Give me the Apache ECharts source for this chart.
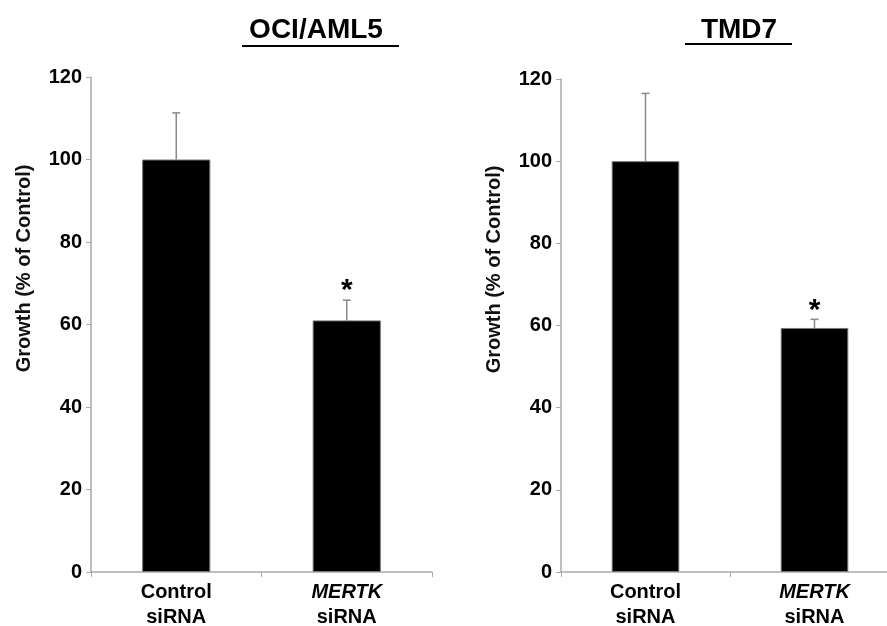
<!DOCTYPE html>
<html>
<head>
<meta charset="utf-8">
<script src="https://cdn.jsdelivr.net/npm/echarts@6/dist/echarts.min.js"></script>
<style>html,body{margin:0;padding:0;background:#fff}#c{width:887px;height:626px}</style>
</head>
<body>
<div id="c"></div>
<script>
const categories = ['Control siRNA', 'MERTK siRNA'];
const titles = ['OCI/AML5', 'TMD7'];
const yTicks = { min: 0, max: 120, interval: 20 };
const ociValues = [100, 61.0];
const ociErrors = [11.3, 4.9];
const tmdValues = [100, 59.4];
const tmdErrors = [16.5, 2.1];
const significance = ['', '*'];
const yName = 'Growth (% of Control)';

const FONT = 'Liberation Sans, Arial, sans-serif';
const chart = echarts.init(document.getElementById('c'), null, { renderer: 'canvas' });

function xAxis(gi) {
  return {
    type: 'category', gridIndex: gi, data: categories,
    axisLine: { lineStyle: { color: '#aaa', width: 1.5 } },
    axisTick: { show: true, length: 5, lineStyle: { color: '#aaa' } },
    axisLabel: {
      margin: 8, interval: 0,
      formatter: function (v) {
        const p = v.split(' ');
        const first = p[0] === 'MERTK' ? '{i|' + p[0] + '}' : '{b|' + p[0] + '}';
        return first + '\n{b|' + p[1] + '}';
      },
      rich: {
        b: { fontFamily: FONT, fontWeight: 'bold', fontSize: 20, color: '#000', lineHeight: 25 },
        i: { fontFamily: FONT, fontWeight: 'bold', fontStyle: 'italic', fontSize: 20, color: '#000', lineHeight: 25 }
      }
    }
  };
}
function yAxis(gi) {
  return {
    type: 'value', gridIndex: gi, min: yTicks.min, max: yTicks.max, interval: yTicks.interval,
    name: yName, nameLocation: 'middle', nameRotate: 90, nameGap: 57,
    nameTextStyle: { fontFamily: FONT, fontWeight: 'bold', fontSize: 20, color: '#111', padding: [0, 0, 0, 112] },
    splitLine: { show: false },
    axisLine: { show: true, lineStyle: { color: '#aaa', width: 1.5 } },
    axisTick: { show: true, length: 5, lineStyle: { color: '#aaa' } },
    axisLabel: { margin: 9, fontFamily: FONT, fontWeight: 'bold', fontSize: 20, color: '#000' }
  };
}
function barSeries(gi, values) {
  return {
    type: 'bar', xAxisIndex: gi, yAxisIndex: gi, data: values, barWidth: '40%',
    itemStyle: { color: '#000', borderColor: '#777', borderWidth: 1 }, z: 2
  };
}
function errSeries(gi, values, errors) {
  return {
    type: 'custom', xAxisIndex: gi, yAxisIndex: gi, z: 3,
    data: values.map((v, i) => [i, v, errors[i], significance[i]]),
    renderItem: function (params, api) {
      const x = api.value(0), v = api.value(1), e = api.value(2);
      const sig = significance[params.dataIndex];
      const p0 = api.coord([x, v]);
      const p1 = api.coord([x, v + e]);
      const cap = 4;
      const children = [
        { type: 'line', shape: { x1: p0[0], y1: p0[1], x2: p1[0], y2: p1[1] }, style: { stroke: '#888', lineWidth: 1.5 } },
        { type: 'line', shape: { x1: p1[0] - cap, y1: p1[1], x2: p1[0] + cap, y2: p1[1] }, style: { stroke: '#888', lineWidth: 1.5 } }
      ];
      if (sig) {
        children.push({ type: 'text', x: p1[0], y: p1[1] + 6,
          style: { text: sig, fontFamily: FONT, fontWeight: 'bold', fontSize: 30, fill: '#000', align: 'center', verticalAlign: 'bottom' } });
      }
      return { type: 'group', children: children };
    }
  };
}

chart.setOption({
  animation: false,
  backgroundColor: '#fff',
  title: [
    { text: titles[0], left: 311, top: 11, textAlign: 'center', textStyle: { fontFamily: FONT, fontWeight: 'bold', fontSize: 28, color: '#000' } },
    { text: titles[1], left: 734, top: 11, textAlign: 'center', textStyle: { fontFamily: FONT, fontWeight: 'bold', fontSize: 28, color: '#000' } }
  ],
  graphic: [
    { type: 'line', shape: { x1: 242, y1: 46, x2: 399, y2: 46 }, style: { stroke: '#000', lineWidth: 2 } },
    { type: 'line', shape: { x1: 685, y1: 44, x2: 792, y2: 44 }, style: { stroke: '#000', lineWidth: 2 } }
  ],
  grid: [
    { left: 91, top: 77, width: 341, height: 495, outerBoundsMode: 'none' },
    { left: 561, top: 79, width: 338, height: 493, outerBoundsMode: 'none' }
  ],
  xAxis: [xAxis(0), xAxis(1)],
  yAxis: [yAxis(0), yAxis(1)],
  series: [
    barSeries(0, ociValues), errSeries(0, ociValues, ociErrors),
    barSeries(1, tmdValues), errSeries(1, tmdValues, tmdErrors)
  ]
});
</script>
</body>
</html>
